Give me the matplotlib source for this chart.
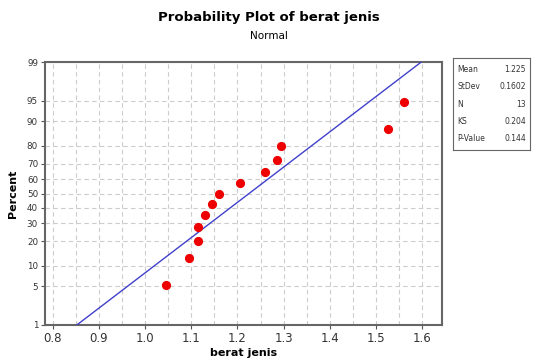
import numpy as np
import matplotlib
matplotlib.use("Agg")
import matplotlib.pyplot as plt
from statistics import NormalDist

# data
berat_jenis = [1.045, 1.095, 1.115, 1.115, 1.13, 1.145, 1.16, 1.205, 1.26, 1.285, 1.295, 1.525, 1.56]
percent = [5.2, 12.7, 20.1, 27.6, 35.1, 42.5, 50.0, 57.5, 64.9, 72.4, 79.9, 87.3, 94.8]
y_ticks = [1, 5, 10, 20, 30, 40, 50, 60, 70, 80, 90, 95, 99]
x_ticks = [0.8, 0.9, 1.0, 1.1, 1.2, 1.3, 1.4, 1.5, 1.6]
stat_names = ["Mean", "StDev", "N", "KS", "P-Value"]
stat_values = ["1.225", "0.1602", "13", "0.204", "0.144"]
mean, stdev = 1.225, 0.1602

nd = NormalDist()
_inv_cdf = np.vectorize(lambda v: nd.inv_cdf(v / 100.0), otypes=[float])
_cdf = np.vectorize(lambda v: nd.cdf(v) * 100.0, otypes=[float])


def fwd(p):
    p = np.clip(np.asarray(p, dtype=float), 1e-6, 100 - 1e-6)
    return _inv_cdf(p)


def inv(z):
    return _cdf(np.asarray(z, dtype=float))


fig = plt.figure(figsize=(5.38, 3.6), dpi=100)
ax = fig.add_axes([45 / 538, 1 - 325 / 360, (442 - 45) / 538, (325 - 62) / 360])
ax.set_yscale('function', functions=(fwd, inv))

# fitted line
line_p = np.array([1.0, 99.0])
line_x = mean + stdev * fwd(line_p)
ax.plot(line_x, line_p, color='#4040cc', lw=1.0, zorder=3)
ax.plot(berat_jenis, percent, 'o', color='#ee0000', ms=5.6, mec='#ee0000', zorder=4)

ax.set_ylim(1, 99)
ax.set_xlim(0.7835, 1.6425)
ax.set_yticks(y_ticks)
ax.set_yticklabels([str(t) for t in y_ticks], fontsize=6.3, color='#333333')
ax.set_xticks(x_ticks)
ax.set_xticklabels(["%.1f" % t for t in x_ticks], fontsize=8.5, color='#333333')
ax.set_xticks(np.arange(0.85, 1.65, 0.1), minor=True)
ax.tick_params(axis='y', which='minor', left=False)
ax.tick_params(axis='x', which='minor', bottom=False)
ax.tick_params(length=3, width=0.8, color='#555555', pad=2)
ax.grid(True, which='both', ls=(0, (4, 3)), color='#cccccc', lw=0.8)
for s in ax.spines.values():
    s.set_color('#666666')
    s.set_linewidth(1.5)

ax.set_xlabel('berat jenis', fontsize=8, fontweight='bold', labelpad=2)
ax.set_ylabel('Percent', fontsize=8, fontweight='bold', labelpad=6)

fig.text(0.5, 1 - 17 / 360, 'Probability Plot of berat jenis', ha='center', va='center',
         fontsize=9.5, fontweight='bold')
fig.text(0.5, 1 - 36 / 360, 'Normal', ha='center', va='center', fontsize=7.5)

# stats box
box = fig.add_axes([453 / 538, 1 - 150 / 360, 77 / 538, 92 / 360])
box.set_xticks([])
box.set_yticks([])
for s in box.spines.values():
    s.set_color('#666666')
    s.set_linewidth(0.8)
for i, (n, v) in enumerate(zip(stat_names, stat_values)):
    yy = 1 - (i + 0.65) / 5.3
    box.text(0.06, yy, n, fontsize=5.5, va='center', ha='left', color='#333333')
    box.text(0.95, yy, v, fontsize=5.5, va='center', ha='right', color='#333333')

fig.savefig('out.png', dpi=100)
